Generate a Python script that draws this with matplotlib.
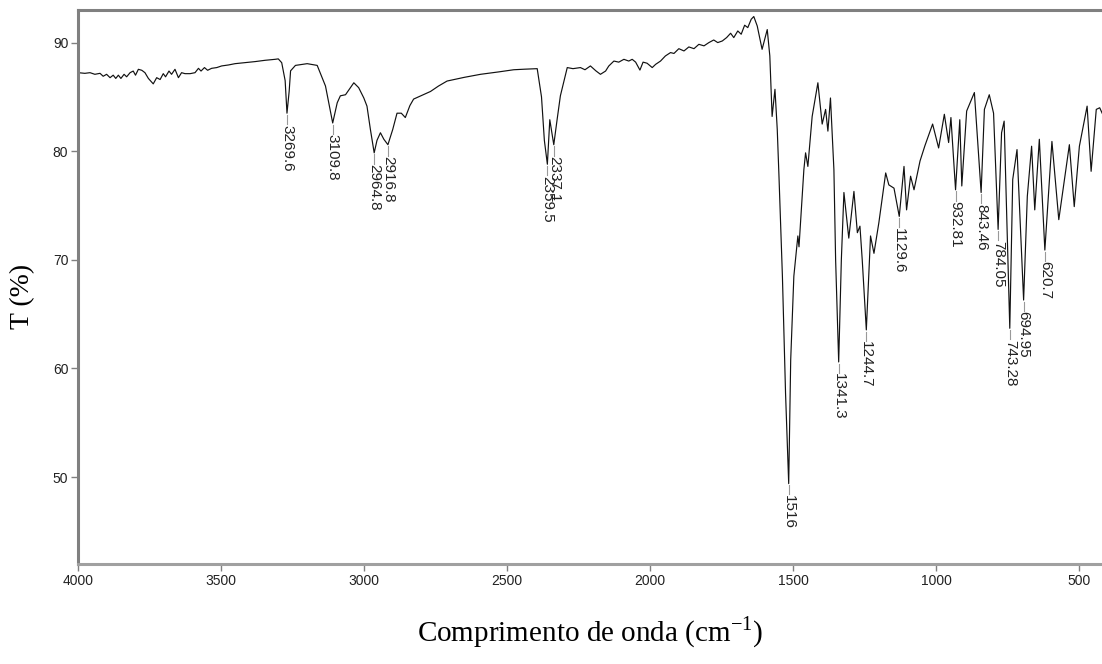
import numpy as np
import matplotlib
matplotlib.use("Agg")
import matplotlib.pyplot as plt
from matplotlib import font_manager

# ---- espectro FTIR (número de onda em cm-1, transmitância em %) ----
wavenumber = [
    3999, 3976, 3958, 3941, 3923, 3912, 3900, 3888, 3877, 3868,
    3859, 3850, 3839, 3830, 3818, 3807, 3799, 3789, 3777, 3766,
    3754, 3737, 3725, 3713, 3702, 3694, 3682, 3673, 3661, 3649,
    3638, 3626, 3608, 3591, 3579, 3570, 3558, 3547, 3533, 3515,
    3498, 3474, 3451, 3416, 3381, 3346, 3311, 3300, 3288, 3276,
    3269.6, 3262, 3257, 3240, 3199, 3164, 3135, 3120, 3109.8, 3094,
    3083, 3065, 3036, 3019, 3001, 2990, 2978, 2964.8, 2955, 2943,
    2931, 2916.8, 2900, 2885, 2870, 2856, 2840, 2827, 2768, 2740,
    2710, 2650, 2593, 2530, 2477, 2440, 2395, 2380, 2370, 2359.5,
    2351, 2337.1, 2325, 2314, 2290, 2270, 2244, 2228, 2209, 2190,
    2174, 2156, 2145, 2127, 2110, 2092, 2075, 2063, 2051, 2036,
    2025, 2011, 1993, 1981, 1964, 1947, 1929, 1917, 1900, 1882,
    1865, 1847, 1830, 1812, 1795, 1778, 1764, 1748, 1733, 1719,
    1708, 1694, 1682, 1670, 1659, 1647, 1638, 1626, 1609, 1591,
    1582, 1574, 1564, 1556, 1550, 1538, 1527, 1516, 1509, 1498,
    1484, 1480, 1463, 1457, 1449, 1434, 1414, 1399, 1387, 1379,
    1370, 1358, 1352, 1341.3, 1332, 1323, 1306, 1288, 1276, 1267,
    1259, 1244.7, 1230, 1218, 1201, 1177, 1166, 1148, 1129.6, 1113,
    1104, 1090, 1078, 1057, 1040, 1013, 992, 972, 957, 949,
    932.81, 918, 911, 894, 867, 843.46, 832, 815, 800, 784.05,
    772, 763, 743.28, 733, 718, 694.95, 682, 667, 656, 640,
    620.7, 596, 572, 535, 518, 500, 473, 459, 441, 429,
    410, 398,
]
transmittance = [
    87.23, 87.17, 87.23, 87.08, 87.17, 86.9, 87.08, 86.77, 87.0, 86.7,
    87.0, 86.7, 87.08, 86.85, 87.23, 87.38, 87.0, 87.54, 87.45, 87.23,
    86.7, 86.2, 86.77, 86.6, 87.14, 86.85, 87.38, 87.08, 87.54, 86.77,
    87.23, 87.14, 87.14, 87.23, 87.63, 87.38, 87.7, 87.45, 87.63, 87.7,
    87.85, 87.94, 88.06, 88.15, 88.25, 88.37, 88.46, 88.5, 88.15, 86.5,
    83.5, 85.5, 87.4, 87.9, 88.06, 87.9, 86.0, 84.0, 82.6, 84.46,
    85.1, 85.2, 86.3, 85.85, 84.9, 84.15, 82.0, 79.85, 81.0, 81.7,
    81.1, 80.6, 82.0, 83.5, 83.5, 83.1, 84.2, 84.8, 85.5, 86.0,
    86.46, 86.8, 87.08, 87.3, 87.5, 87.55, 87.6, 85.0, 81.0, 78.8,
    82.9, 80.6, 83.0, 85.1, 87.7, 87.6, 87.7, 87.5, 87.85, 87.4,
    87.08, 87.38, 87.84, 88.3, 88.2, 88.46, 88.3, 88.46, 88.2, 87.47,
    88.2, 88.1, 87.7, 88.0, 88.3, 88.77, 89.08, 89.0, 89.44, 89.23,
    89.6, 89.44, 89.84, 89.7, 90.0, 90.24, 90.0, 90.15, 90.46, 90.86,
    90.46, 91.07, 90.77, 91.6, 91.38, 92.15, 92.4, 91.53, 89.38, 91.2,
    88.77, 83.2, 85.7, 82.0, 77.7, 68.5, 57.7, 49.4, 60.8, 68.5,
    72.2, 71.2, 78.3, 79.85, 78.6, 83.2, 86.3, 82.5, 83.85, 81.85,
    84.9, 78.3, 70.0, 60.6, 70.0, 76.2, 72.0, 76.3, 72.5, 73.1,
    70.0, 63.55, 72.2, 70.6, 73.4, 78.0, 76.9, 76.6, 74.0, 78.6,
    74.6, 77.7, 76.45, 79.1, 80.5, 82.5, 80.3, 83.4, 80.8, 83.1,
    76.45, 82.9, 76.8, 83.7, 85.4, 76.2, 83.85, 85.2, 83.5, 72.8,
    81.7, 82.77, 63.7, 77.4, 80.15, 66.3, 75.85, 80.46, 74.6, 81.1,
    70.9, 80.9, 73.7, 80.6, 74.9, 80.46, 84.15, 78.15, 83.85, 84.0,
    82.9, 82.5,
]

# picos marcados
peak_wn = [3269.6, 3109.8, 2964.8, 2916.8, 2359.5, 2337.1, 1516, 1341.3,
           1244.7, 1129.6, 932.81, 843.46, 784.05, 743.28, 694.95, 620.7]
peak_labels = ["3269.6", "3109.8", "2964.8", "2916.8", "2359.5", "2337.1",
               "1516", "1341.3", "1244.7", "1129.6", "932.81", "843.46",
               "784.05", "743.28", "694.95", "620.7"]


def pick_font(names):
    for n in names:
        try:
            font_manager.findfont(n, fallback_to_default=False)
            return n
        except Exception:
            continue
    return "DejaVu Sans"


narrow = pick_font(["Liberation Sans Narrow", "Liberation Sans", "Arial"])
serif = pick_font(["Liberation Serif", "Times New Roman", "DejaVu Serif"])
narrow_ok = narrow == "Liberation Sans Narrow"
tick_fs = 11.5 if narrow_ok else 10
peak_fs = 13.5 if narrow_ok else 11

W, H = 1102, 664
fig = plt.figure(figsize=(W / 100, H / 100), dpi=100)
# eixo começa em x=78 px; a borda direita fica fora da figura
ax = fig.add_axes([78 / W, 100 / H, 1030 / W, 554 / H])

wn = np.array(wavenumber)
tr = np.array(transmittance)
ax.plot(wn, tr, color="#111111", lw=0.85)

ax.set_xlim(4000, 400)
ax.set_ylim(42, 93)
ax.set_xticks([4000, 3500, 3000, 2500, 2000, 1500, 1000, 500])
ax.set_yticks([50, 60, 70, 80, 90])

# rótulos dos picos, girados, logo abaixo de cada mínimo
order = np.argsort(wn)
for w, lab in zip(peak_wn, peak_labels):
    y = np.interp(w, wn[order], tr[order])
    ax.plot([w, w], [y - 0.15, y - 1.0], color="#999999", lw=0.8)
    ax.text(w, y - 1.05, lab, rotation=270, ha="center", va="top",
            fontsize=peak_fs, family=narrow, color="#222222")

for side in ("left", "top"):
    ax.spines[side].set_color("#808080")
    ax.spines[side].set_linewidth(2.2)
ax.spines["bottom"].set_color("#a0a0a0")
ax.spines["bottom"].set_linewidth(2.2)
ax.spines["right"].set_visible(False)

ax.tick_params(direction="out", length=5, width=1, color="#808080",
               labelsize=tick_fs, labelcolor="#222222", pad=2)
for t in ax.get_xticklabels() + ax.get_yticklabels():
    t.set_family(narrow)

fig.text(590 / W, 1 - 632 / H, r"Comprimento de onda (cm$^{\mathregular{-1}}$)",
         ha="center", va="center", fontsize=21, family=serif)
fig.text(23 / W, 1 - 296 / H, "T (%)", rotation=90, ha="center", va="center",
         fontsize=20, family=serif)

fig.savefig("out.png", dpi=100)
